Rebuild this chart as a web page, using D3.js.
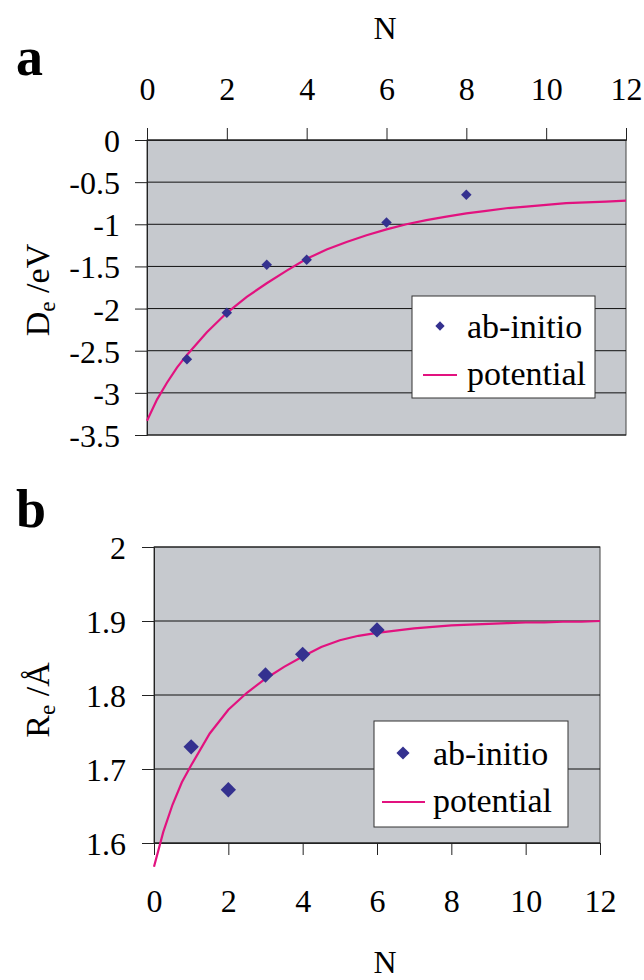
<!DOCTYPE html>
<html>
<head>
<meta charset="utf-8">
<script src="https://cdn.jsdelivr.net/npm/d3@7"></script>
<style>
  body { margin: 0; background: #fff; }
  #chart text { font-family: "Liberation Serif", "Times New Roman", serif !important; }
</style>
</head>
<body>
<svg id="chart" width="644" height="980"></svg>
<script>
const serif = "Liberation Serif, serif";

// N values for both panels
const nTicks = [0, 2, 4, 6, 8, 10, 12];

// panel a: binding energy
const abInitioN_a = [1, 2, 3, 4, 6, 8];
const abInitioDe = [-2.6, -2.05, -1.48, -1.42, -0.98, -0.65];
const potentialN = [0, 0.25, 0.5, 0.75, 1, 1.5, 2, 2.5, 3, 3.5, 4, 4.5, 5, 5.5, 6, 6.5, 7, 7.5, 8, 8.5, 9, 9.5, 10, 10.5, 11, 11.5, 12];
const potentialDe = [-3.33, -3.08, -2.88, -2.70, -2.55, -2.28, -2.05, -1.86, -1.70, -1.55, -1.41, -1.30, -1.21, -1.13, -1.06, -1.00, -0.95, -0.91, -0.87, -0.84, -0.81, -0.79, -0.77, -0.75, -0.74, -0.73, -0.72];
const deTicks = [0, -0.5, -1, -1.5, -2, -2.5, -3, -3.5];

// panel b: bond length
const abInitioN_b = [1, 2, 3, 4, 6];
const abInitioRe = [1.73, 1.672, 1.827, 1.855, 1.888];
const potentialRe = [1.568, 1.615, 1.652, 1.682, 1.705, 1.748, 1.780, 1.803, 1.822, 1.838, 1.852, 1.865, 1.874, 1.880, 1.884, 1.887, 1.890, 1.892, 1.894, 1.895, 1.896, 1.897, 1.898, 1.898, 1.899, 1.899, 1.900];
const reTicks = [2, 1.9, 1.8, 1.7, 1.6];

const plotBg = "#c6c9ce";
const markerColor = "#34318f";
const lineColor = "#e2127f";

const svg = d3.select("#chart");

function drawPanel(cfg) {
    const x = d3.scaleLinear().domain([0, 12]).range([cfg.left, cfg.right]);
    const y = d3.scaleLinear().domain(cfg.yDomain).range([cfg.top, cfg.bottom]);
    const g = svg.append("g");

    // plot background
    g.append("rect")
        .attr("x", cfg.left).attr("y", cfg.top)
        .attr("width", cfg.right - cfg.left).attr("height", cfg.bottom - cfg.top)
        .attr("fill", plotBg)
        .attr("stroke", "#444").attr("stroke-width", 1);

    // horizontal grid lines
    g.selectAll(".grid")
        .data(cfg.yTicks)
        .enter().append("line")
        .attr("x1", cfg.left).attr("x2", cfg.right)
        .attr("y1", d => y(d)).attr("y2", d => y(d))
        .attr("stroke", "#111").attr("stroke-width", 1);

    // y axis
    const yAxis = d3.axisLeft(y).tickValues(cfg.yTicks).tickSize(12).tickPadding(cfg.yPad)
        .tickFormat(d => d3.format("")(d).replace("−", "-"));
    const ya = g.append("g").attr("transform", `translate(${cfg.left},0)`).call(yAxis);
    ya.attr("font-family", serif);
    ya.select(".domain").attr("stroke", "#222");
    ya.selectAll(".tick line").attr("stroke", "#222");
    ya.selectAll("text").attr("font-size", 32)
        .attr("dy", "0.36em").attr("fill", "#000");

    // x axis, on top for panel a and on bottom for panel b
    const xAxis = (cfg.xTop ? d3.axisTop(x) : d3.axisBottom(x))
        .tickValues(nTicks).tickSize(12).tickPadding(cfg.xPad);
    const xa = g.append("g")
        .attr("transform", `translate(0,${cfg.xTop ? cfg.top : cfg.bottom})`)
        .call(xAxis);
    xa.attr("font-family", serif);
    xa.select(".domain").attr("stroke", "#222");
    xa.selectAll(".tick line").attr("stroke", "#222");
    xa.selectAll("text").attr("font-size", 32).attr("fill", "#000");

    // potential curve
    const line = d3.line().x(d => x(d[0])).y(d => y(d[1]));
    g.append("path")
        .datum(potentialN.map((n, i) => [n, cfg.potential[i]]))
        .attr("d", line)
        .attr("fill", "none")
        .attr("stroke", lineColor)
        .attr("stroke-width", 2.2);

    // ab-initio points
    const diamond = d3.symbol().type(d3.symbolDiamond2).size(cfg.markerSize);
    g.selectAll(".pt")
        .data(cfg.abN.map((n, i) => [n, cfg.abVals[i]]))
        .enter().append("path")
        .attr("d", diamond)
        .attr("transform", d => `translate(${x(d[0])},${y(d[1])})`)
        .attr("fill", markerColor);

    // legend
    const lg = g.append("g").attr("transform", `translate(${cfg.legend.x},${cfg.legend.y})`);
    lg.append("rect")
        .attr("width", cfg.legend.w).attr("height", cfg.legend.h)
        .attr("fill", "#fff").attr("stroke", "#333").attr("stroke-width", 1);
    lg.append("path")
        .attr("d", d3.symbol().type(d3.symbolDiamond2).size(cfg.legend.markerSize))
        .attr("transform", `translate(${cfg.legend.markX},${cfg.legend.row1})`)
        .attr("fill", markerColor);
    lg.append("line")
        .attr("x1", cfg.legend.lineX1).attr("x2", cfg.legend.lineX2)
        .attr("y1", cfg.legend.row2).attr("y2", cfg.legend.row2)
        .attr("stroke", lineColor).attr("stroke-width", 2.2);
    lg.append("text").attr("x", cfg.legend.textX).attr("y", cfg.legend.row1 + 12)
        .attr("fill", "#000").attr("font-size", 34).text("ab-initio");
    lg.append("text").attr("x", cfg.legend.textX).attr("y", cfg.legend.row2 + 10)
        .attr("fill", "#000").attr("font-size", 34).text("potential");

    // y axis title with subscript
    const t = svg.append("text")
        .attr("transform", `translate(${cfg.titleX},${cfg.titleY}) rotate(-90)`)
        .attr("text-anchor", "middle")
        .attr("fill", "#000")
        .attr("font-size", 34);
    t.append("tspan").text(cfg.titleMain);
    t.append("tspan").attr("font-size", 23).attr("dy", 6).text("e");
    t.append("tspan").attr("dy", -6).text(" " + cfg.titleUnit);

    // N label
    svg.append("text")
        .attr("x", cfg.nX).attr("y", cfg.nY)
        .attr("text-anchor", "middle")
        .attr("fill", "#000")
        .attr("font-size", 32)
        .text("N");

    // panel letter
    svg.append("text")
        .attr("x", cfg.letterX).attr("y", cfg.letterY)
        .attr("fill", "#000")
        .attr("font-size", 54).attr("font-weight", "bold")
        .text(cfg.letter);
}

drawPanel({
    left: 147, right: 626, top: 140, bottom: 435,
    yDomain: [0, -3.5], yTicks: deTicks, xTop: true, xPad: 28, yPad: 15,
    potential: potentialDe, abN: abInitioN_a, abVals: abInitioDe, markerSize: 70,
    legend: { x: 412, y: 296, w: 183, h: 102, markX: 28, row1: 30, row2: 79,
              lineX1: 11, lineX2: 45, textX: 55, markerSize: 55 },
    titleMain: "D", titleUnit: "/eV", titleX: 49, titleY: 290,
    nX: 385, nY: 39, letter: "a", letterX: 16, letterY: 75
});

drawPanel({
    left: 154, right: 600, top: 547, bottom: 843,
    yDomain: [2, 1.6], yTicks: reTicks, xTop: false, xPad: 34, yPad: 16,
    potential: potentialRe, abN: abInitioN_b, abVals: abInitioRe, markerSize: 150,
    legend: { x: 374, y: 721, w: 194, h: 106, markX: 29, row1: 32, row2: 81,
              lineX1: 8, lineX2: 51, textX: 59, markerSize: 110 },
    titleMain: "R", titleUnit: "/Å", titleX: 49, titleY: 700,
    nX: 385, nY: 973, letter: "b", letterX: 16, letterY: 527
});
</script>
</body>
</html>
